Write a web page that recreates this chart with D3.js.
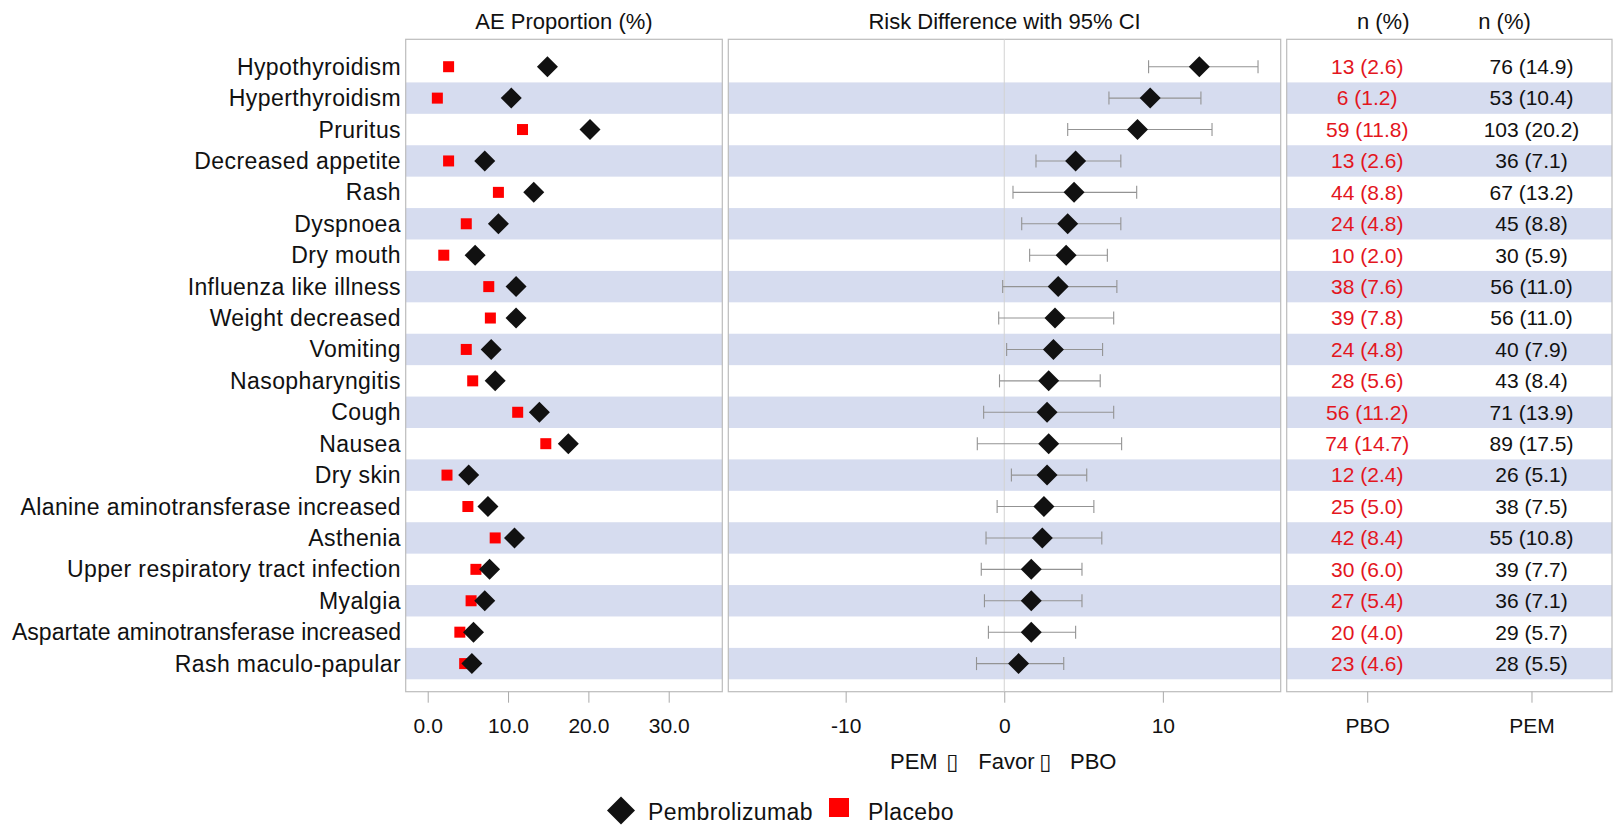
<!DOCTYPE html>
<html><head><meta charset="utf-8">
<script src="https://cdn.jsdelivr.net/npm/d3@7"></script>
<style>
body{margin:0;background:#fff}
svg{display:block}
text{font-family:"Liberation Sans",Arial,Helvetica,sans-serif;fill:#111}
</style>
</head><body>
<svg id="chart" width="1614" height="826"></svg>
<script>
// ---- data ----
const categories = ["Hypothyroidism","Hyperthyroidism","Pruritus","Decreased appetite","Rash","Dyspnoea","Dry mouth","Influenza like illness","Weight decreased","Vomiting","Nasopharyngitis","Cough","Nausea","Dry skin","Alanine aminotransferase increased","Asthenia","Upper respiratory tract infection","Myalgia","Aspartate aminotransferase increased","Rash maculo-papular"];
const pemPct = [14.9,10.4,20.2,7.1,13.2,8.8,5.9,11.0,11.0,7.9,8.4,13.9,17.5,5.1,7.5,10.8,7.7,7.1,5.7,5.5];
const pboPct = [2.6,1.2,11.8,2.6,8.8,4.8,2.0,7.6,7.8,4.8,5.6,11.2,14.7,2.4,5.0,8.4,6.0,5.4,4.0,4.6];
const pemN = [76,53,103,36,67,45,30,56,56,40,43,71,89,26,38,55,39,36,29,28];
const pboN = [13,6,59,13,44,24,10,38,39,24,28,56,74,12,25,42,30,27,20,23];
const riskDiff = [12.3,9.2,8.4,4.5,4.4,4.0,3.9,3.4,3.2,3.1,2.8,2.7,2.8,2.7,2.5,2.4,1.7,1.7,1.7,0.9];
const ciLower = [9.1,6.6,4.0,2.0,0.55,1.1,1.6,-0.1,-0.35,0.15,-0.3,-1.3,-1.7,0.45,-0.45,-1.15,-1.45,-1.25,-1.0,-1.75];
const ciUpper = [16.0,12.4,13.1,7.35,8.35,7.35,6.5,7.1,6.9,6.2,6.05,6.9,7.4,5.2,5.65,6.15,4.9,4.9,4.5,3.75];
const aeTicks = [0,10,20,30];
const rdTicks = [-10,0,10];
const countColumns = ["PBO","PEM"];
const panelTitles = ["AE Proportion (%)","Risk Difference with 95% CI","n (%)","n (%)"];
const favorParts = ["PEM","\u25AF","Favor","\u25AF","PBO"];
const legendLabels = ["Pembrolizumab","Placebo"];

// ---- layout ----
const yTop = 39.3, yBottom = 691.7;
const p1 = [405.7, 722.3], p2 = [728.3, 1280.7], p3 = [1286.7, 1612];
const BAND = "#d6dcef", RED = "#ff0000", REDTXT = "#e3161e", BORDER = "#bcbcbc";

const svg = d3.select("#chart");
const y = d3.scaleBand().domain(categories).range([51, 679.3]).paddingInner(0).paddingOuter(0);
const yc = c => y(c) + y.bandwidth() / 2;
const xAE = d3.scaleLinear().domain([-2.74, 36.67]).range(p1);
const xRD = d3.scaleLinear().domain([-17.4, 17.43]).range(p2);
const xCol = d3.scalePoint().domain(countColumns).range(p3).padding(0.49);

const rows = categories.map((c, i) => ({c, i, pem: pemPct[i], pbo: pboPct[i], rd: riskDiff[i], lo: ciLower[i], hi: ciUpper[i],
  pboTxt: `${pboN[i]} (${pboPct[i].toFixed(1)})`, pemTxt: `${pemN[i]} (${pemPct[i].toFixed(1)})`}));

const diamond = r => `M0,${-r}L${r},0L0,${r}L${-r},0Z`;

// bands
[p1, p2, p3].forEach(p => {
  svg.append("g").selectAll("rect").data(rows.filter(d => d.i % 2 === 1)).join("rect")
    .attr("x", p[0]).attr("width", p[1] - p[0])
    .attr("y", d => y(d.c)).attr("height", y.bandwidth())
    .attr("fill", BAND);
});

// panel borders
[p1, p2, p3].forEach(p => {
  svg.append("rect").attr("x", p[0]).attr("y", yTop).attr("width", p[1] - p[0]).attr("height", yBottom - yTop)
    .attr("fill", "none").attr("stroke", BORDER).attr("stroke-width", 1.2);
});

// titles
svg.append("text").attr("x", (p1[0] + p1[1]) / 2).attr("y", 29).attr("text-anchor", "middle").attr("font-size", 22).text(panelTitles[0]);
svg.append("text").attr("x", (p2[0] + p2[1]) / 2).attr("y", 29).attr("text-anchor", "middle").attr("font-size", 22).text(panelTitles[1]);
svg.append("text").attr("x", xCol("PBO") + 16).attr("y", 29).attr("text-anchor", "middle").attr("font-size", 22).text(panelTitles[2]);
svg.append("text").attr("x", xCol("PEM") - 27).attr("y", 29).attr("text-anchor", "middle").attr("font-size", 22).text(panelTitles[3]);

// category labels
const labelRight = 401, labelMinLeft = 12;
svg.append("g").selectAll("text").data(rows).join("text")
  .attr("x", labelRight).attr("y", d => yc(d.c)).attr("dy", "0.35em")
  .attr("text-anchor", "end").attr("font-size", 23).attr("letter-spacing", 0.4)
  .text(d => d.c)
  .each(function() {
    const w = this.getComputedTextLength();
    if (labelRight - w < labelMinLeft) {
      d3.select(this).attr("letter-spacing", 0)
        .attr("textLength", labelRight - labelMinLeft).attr("lengthAdjust", "spacingAndGlyphs");
    }
  });

// panel 1 markers
svg.append("g").selectAll("rect").data(rows).join("rect")
  .attr("x", d => xAE(d.pbo) - 5.5).attr("y", d => yc(d.c) - 5.5)
  .attr("width", 11).attr("height", 11).attr("fill", RED);
svg.append("g").selectAll("path").data(rows).join("path")
  .attr("transform", d => `translate(${xAE(d.pem)},${yc(d.c)})`)
  .attr("d", diamond(10.5)).attr("fill", "#111");

// panel 2: zero line
svg.append("line").attr("x1", xRD(0)).attr("x2", xRD(0)).attr("y1", yTop).attr("y2", yBottom)
  .attr("stroke", "#d2d2d2").attr("stroke-width", 1);
// CI bars
const ci = svg.append("g").attr("stroke", "#939393").attr("stroke-width", 1.1);
ci.selectAll("line.h").data(rows).join("line").attr("class", "h")
  .attr("x1", d => xRD(d.lo)).attr("x2", d => xRD(d.hi)).attr("y1", d => yc(d.c)).attr("y2", d => yc(d.c));
ci.selectAll("line.l").data(rows).join("line").attr("class", "l")
  .attr("x1", d => xRD(d.lo)).attr("x2", d => xRD(d.lo)).attr("y1", d => yc(d.c) - 6.5).attr("y2", d => yc(d.c) + 6.5);
ci.selectAll("line.r").data(rows).join("line").attr("class", "r")
  .attr("x1", d => xRD(d.hi)).attr("x2", d => xRD(d.hi)).attr("y1", d => yc(d.c) - 6.5).attr("y2", d => yc(d.c) + 6.5);
svg.append("g").selectAll("path").data(rows).join("path")
  .attr("transform", d => `translate(${xRD(d.rd)},${yc(d.c)})`)
  .attr("d", diamond(10.5)).attr("fill", "#111");

// panel 3: counts
svg.append("g").selectAll("text").data(rows).join("text")
  .attr("x", xCol("PBO")).attr("y", d => yc(d.c)).attr("dy", "0.35em")
  .attr("text-anchor", "middle").attr("font-size", 21).style("fill", REDTXT).text(d => d.pboTxt);
svg.append("g").selectAll("text").data(rows).join("text")
  .attr("x", xCol("PEM")).attr("y", d => yc(d.c)).attr("dy", "0.35em")
  .attr("text-anchor", "middle").attr("font-size", 21).text(d => d.pemTxt);

// axes
function styleAxis(g) {
  g.select(".domain").remove();
  g.selectAll(".tick line").attr("stroke", "#aaaaaa");
  g.selectAll(".tick text").attr("font-size", 21).attr("font-family", null).style("fill", "#111");
}
svg.append("g").attr("transform", `translate(0,${yBottom})`)
  .call(d3.axisBottom(xAE).tickValues(aeTicks).tickFormat(d3.format(".1f")).tickSize(11).tickPadding(15))
  .call(styleAxis);
svg.append("g").attr("transform", `translate(0,${yBottom})`)
  .call(d3.axisBottom(xRD).tickValues(rdTicks).tickFormat(d => String(d)).tickSize(11).tickPadding(15))
  .call(styleAxis);
svg.append("g").attr("transform", `translate(0,${yBottom})`)
  .call(d3.axisBottom(xCol).tickSize(11).tickPadding(15))
  .call(styleAxis);

// favor label
const favorX = [-114.3, -58, -26, 35, 65.7];
const fav = svg.append("g");
favorParts.forEach((t, k) => {
  const isBox = t === "\u25AF";
  fav.append("text").attr("x", xRD(0) + favorX[k]).attr("y", 769)
    .style("font-family", isBox ? "'DejaVu Sans',sans-serif" : null)
    .style("fill", "#111")
    .attr("font-size", isBox ? 22 : 22)
    .text(t);
});

// legend
svg.append("path").attr("transform", "translate(621,810.5)").attr("d", diamond(14)).attr("fill", "#111");
svg.append("text").attr("x", 648).attr("y", 820).attr("font-size", 23).attr("letter-spacing", 0.4).text(legendLabels[0]);
svg.append("rect").attr("x", 829).attr("y", 798).attr("width", 20).attr("height", 19).attr("fill", RED);
svg.append("text").attr("x", 868).attr("y", 820).attr("font-size", 23).attr("letter-spacing", 0.4).text(legendLabels[1]);
</script>
</body></html>
